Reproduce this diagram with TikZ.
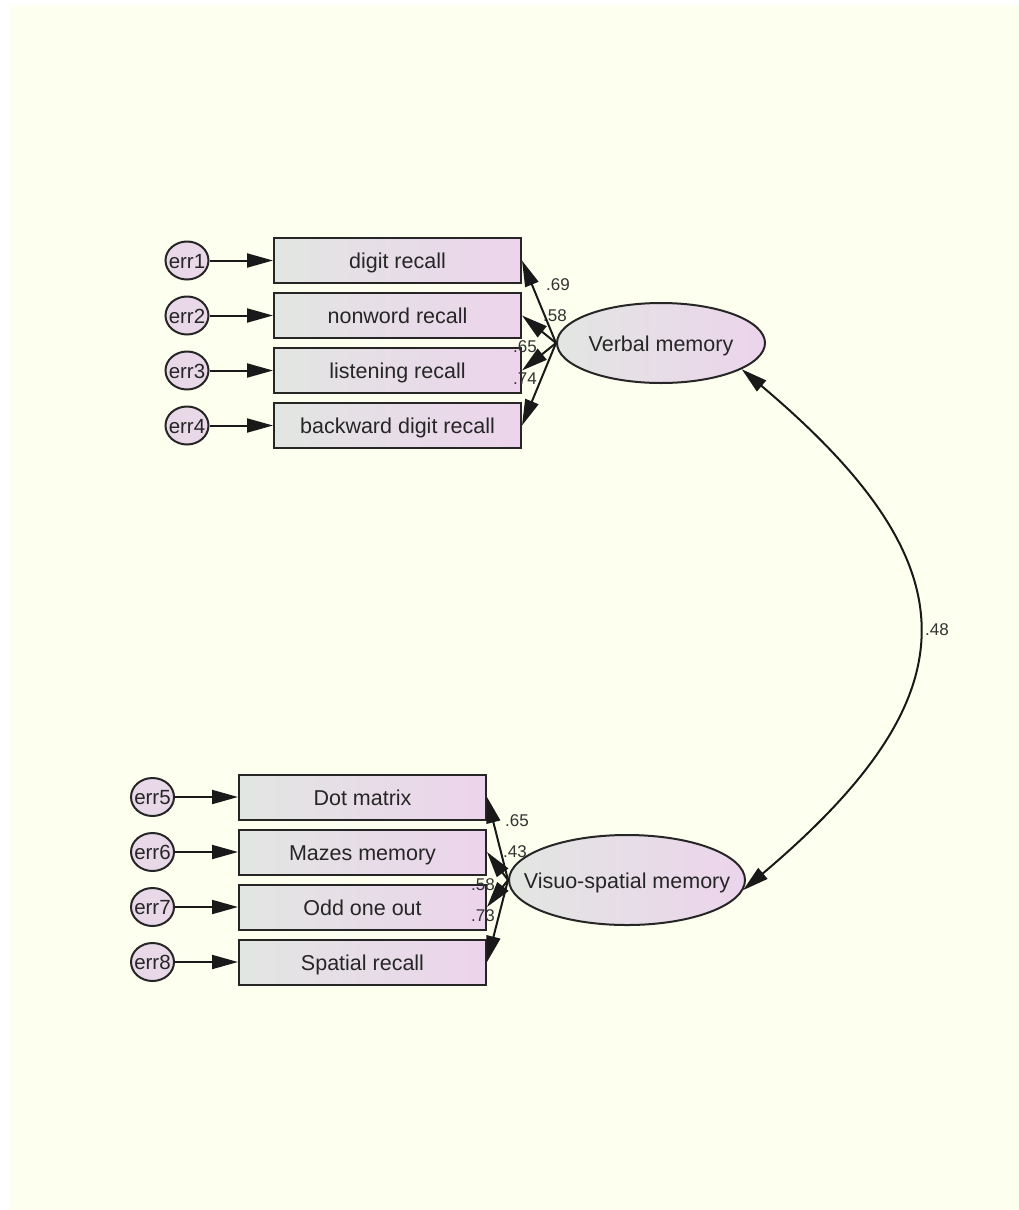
\documentclass[tikz,border=0pt]{standalone}
\usepackage{fontspec}
\setmainfont{Liberation Sans}
\usetikzlibrary{shapes.geometric,arrows.meta}
\definecolor{bgyellow}{HTML}{FDFFEF}
\definecolor{gradleft}{HTML}{E2E6E2}
\definecolor{gradright}{HTML}{ECD4EC}
\definecolor{errfill}{HTML}{E8D8E8}
\tikzset{
  obsbox/.style={draw=black!85, line width=2pt, rectangle, minimum width=247pt, minimum height=45pt, inner sep=0pt,
    text height=16pt, text depth=0pt,
    left color=gradleft, right color=gradright, font=\fontsize{21.5}{25}\selectfont, text=black!85},
  latentvar/.style={draw=black!85, line width=2pt, ellipse, inner xsep=-40pt, inner ysep=0pt,
    text height=16pt, text depth=0pt,
    left color=gradleft, right color=gradright, font=\fontsize{21.5}{25}\selectfont, text=black!85},
  errvar/.style={draw=black!85, line width=2pt, ellipse, minimum width=43pt, minimum height=38pt, inner xsep=-12pt, inner ysep=0pt,
    text height=15pt, text depth=0pt,
    fill=errfill, font=\fontsize{20.5}{24}\selectfont, text=black!85},
  loadarrow/.style={line width=2pt, draw=black!90, -{Triangle[length=26pt,width=14pt]}},
  covarrow/.style={line width=2pt, draw=black!90, {Triangle[length=26pt,width=14pt]}-{Triangle[length=26pt,width=14pt]}},
  coef/.style={font=\fontsize{17}{20}\selectfont, text=black!80, inner sep=0pt}
}
\begin{document}
\begin{tikzpicture}[x=1pt,y=-1pt]
\useasboundingbox (0,0) rectangle (1019,1210);
\fill[white] (0,0) rectangle (1019,1210);
\fill[bgyellow] (9,5) rectangle (1019,1210);

% Verbal memory block
\node[obsbox] (dr) at (397.5,260.5) {digit recall};
\node[obsbox] (nr) at (397.5,315.5) {nonword recall};
\node[obsbox] (lr) at (397.5,370.5) {listening recall};
\node[obsbox] (bdr) at (397.5,425.5) {backward digit recall};
\node[errvar] (e1) at (187,260.5) {err1};
\node[errvar] (e2) at (187,315.5) {err2};
\node[errvar] (e3) at (187,370.5) {err3};
\node[errvar] (e4) at (187,425.5) {err4};
\node[latentvar, minimum width=208pt, minimum height=80pt] (vm) at (661,343) {Verbal memory};

\draw[loadarrow] (e1.east) -- (dr.west);
\draw[loadarrow] (e2.east) -- (nr.west);
\draw[loadarrow] (e3.east) -- (lr.west);
\draw[loadarrow] (e4.east) -- (bdr.west);
\draw[loadarrow] (vm.west) -- (dr.east);
\draw[loadarrow] (vm.west) -- (nr.east);
\draw[loadarrow] (vm.west) -- (lr.east);
\draw[loadarrow] (vm.west) -- (bdr.east);
\node[coef] (c1) at (558,285) {.69};
\node[coef] (c2) at (555,316) {.58};
\node[coef] (c3) at (525,347) {.65};
\node[coef] (c4) at (525,379) {.74};

% Visuo-spatial block
\node[obsbox] (dm) at (362.5,797) {Dot matrix};
\node[obsbox] (mm) at (362.5,852) {Mazes memory};
\node[obsbox] (oo) at (362.5,907) {Odd one out};
\node[obsbox] (sr) at (362.5,962) {Spatial recall};
\node[errvar] (e5) at (152.5,797) {err5};
\node[errvar] (e6) at (152.5,852) {err6};
\node[errvar] (e7) at (152.5,907) {err7};
\node[errvar] (e8) at (152.5,962) {err8};
\node[latentvar, minimum width=236pt, minimum height=90pt] (vs) at (627,880) {Visuo-spatial memory};

\draw[loadarrow] (e5.east) -- (dm.west);
\draw[loadarrow] (e6.east) -- (mm.west);
\draw[loadarrow] (e7.east) -- (oo.west);
\draw[loadarrow] (e8.east) -- (sr.west);
\draw[loadarrow] (vs.west) -- (dm.east);
\draw[loadarrow] (vs.west) -- (mm.east);
\draw[loadarrow] (vs.west) -- (oo.east);
\draw[loadarrow] (vs.west) -- (sr.east);
\node[coef] (c5) at (517,821) {.65};
\node[coef] (c6) at (515,852) {.43};
\node[coef] (c7) at (483,885) {.58};
\node[coef] (c8) at (483,916) {.73};

% covariance
\draw[covarrow] (vm.-18) .. controls (975,566) and (975,694) .. (vs.-5);
\node[coef] (c9) at (937,630) {.48};
\end{tikzpicture}
\end{document}
